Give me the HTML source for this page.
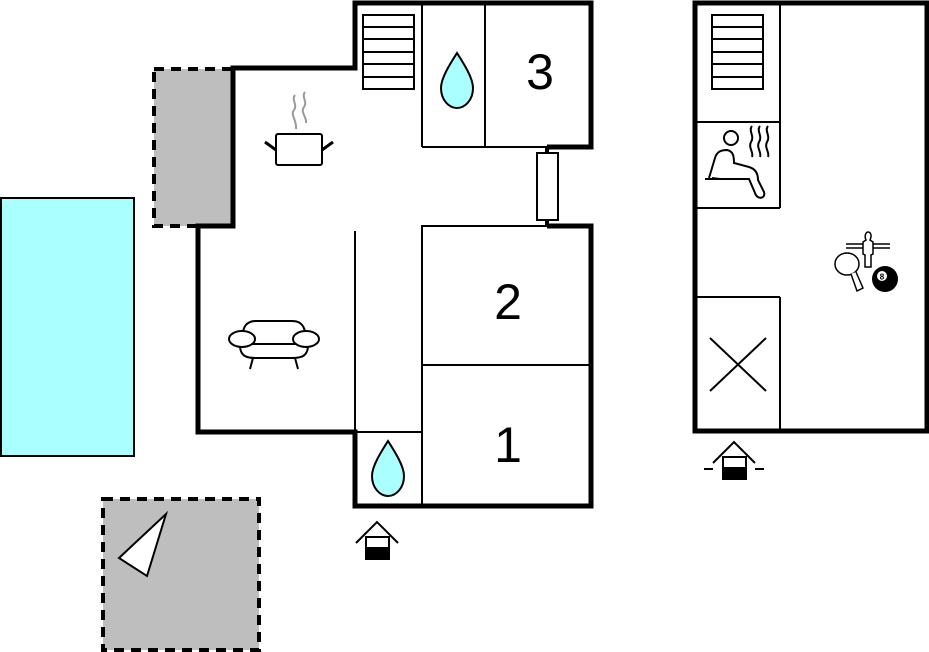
<!DOCTYPE html>
<html><head><meta charset="utf-8"><style>
html,body{margin:0;padding:0;background:#fff;}
svg{display:block;}
text{font-family:"Liberation Sans",sans-serif;}
</style></head><body>
<svg width="929" height="652" viewBox="0 0 929 652" xmlns="http://www.w3.org/2000/svg">
<rect x="1" y="198" width="133" height="258" fill="#aaffff" stroke="#000" stroke-width="2"/>
<rect x="154" y="69" width="79" height="157" fill="#bebebe" stroke="#000" stroke-width="4" stroke-dasharray="10,7"/>
<rect x="103" y="499" width="156" height="151" fill="#bebebe" stroke="#000" stroke-width="4" stroke-dasharray="10,7"/>
<polygon points="119,558 166,514 147,576" fill="#fff" stroke="#000" stroke-width="2"/>

<path d="M355,3 H591 V147 H547 V226 H591 V506 H355 V432 H198 V226 H233 V68 H355 Z" fill="#fff"/>
<g stroke="#000" stroke-width="2" fill="none">
<line x1="422" y1="3" x2="422" y2="147"/>
<line x1="485" y1="3" x2="485" y2="147"/>
<line x1="422" y1="147" x2="547" y2="147"/>
<rect x="422" y="226" width="169" height="280"/>
<line x1="422" y1="365" x2="591" y2="365"/>
<rect x="355" y="432" width="67" height="74"/>
<line x1="355" y1="231" x2="355" y2="432"/>
<rect x="363" y="15" width="51" height="74"/>
<line x1="363" y1="27" x2="414" y2="27"/><line x1="363" y1="39" x2="414" y2="39"/>
<line x1="363" y1="52" x2="414" y2="52"/><line x1="363" y1="64" x2="414" y2="64"/>
<line x1="363" y1="77" x2="414" y2="77"/>
<rect x="537" y="153" width="21" height="67" fill="#fff"/>
</g>
<path d="M547,147 H591 V3 H355 V68 H233 V226 H198 V432 H355 V506 H591 V226 H547" fill="none" stroke="#000" stroke-width="5"/>
<line x1="547" y1="147" x2="547" y2="153" stroke="#000" stroke-width="4"/>
<line x1="547" y1="220" x2="547" y2="226" stroke="#000" stroke-width="4"/>

<path d="M457,53 C450,64 441,78 441,88 C441,100 449,108 457,108 C465,108 473,100 473,88 C473,78 464,64 457,53 Z" fill="#aaffff" stroke="#000" stroke-width="2"/>
<path d="M388,441 C381,452 372,466 372,476 C372,488 380,496 388,496 C396,496 404,488 404,476 C404,466 395,452 388,441 Z" fill="#aaffff" stroke="#000" stroke-width="2"/>
<text x="540" y="89" font-size="50" text-anchor="middle">3</text>
<text x="508" y="319" font-size="50" text-anchor="middle">2</text>
<text x="508" y="462" font-size="50" text-anchor="middle">1</text>

<g stroke="#000" stroke-width="2" fill="#fff">
<rect x="276" y="134" width="46" height="31" rx="2"/>
<line x1="265" y1="142" x2="276" y2="150" stroke-width="3"/>
<line x1="322" y1="150" x2="333" y2="142" stroke-width="3"/>
</g>
<path d="M295,95 C291,100 298,105 294,110 C290,115 297,120 296,129 M305,92 C301,97 308,102 304,107 C300,112 307,117 306,123" fill="none" stroke="#999" stroke-width="2"/>
<g stroke="#000" stroke-width="2" fill="#fff">
<path d="M242,343 C242,330 244,321 256,321 H292 C304,321 306,330 306,343"/>
<path d="M240,345 C240,356 246,358 256,358 H292 C302,358 308,356 308,345"/>
<line x1="250" y1="344" x2="298" y2="344"/>
<ellipse cx="242" cy="339" rx="13" ry="8"/>
<ellipse cx="306" cy="339" rx="13" ry="8"/>
<line x1="253" y1="358" x2="250" y2="369"/>
<line x1="295" y1="358" x2="298" y2="369"/>
</g>
<g stroke="#000" stroke-width="2" fill="#fff">
<polyline points="356,543 377,522 398,543" fill="none"/>
<rect x="366" y="537" width="23" height="22"/>
<rect x="366" y="548" width="23" height="11" fill="#000"/>
</g>

<rect x="695" y="3" width="232" height="428" fill="#fff" stroke="#000" stroke-width="5"/>
<g stroke="#000" stroke-width="2" fill="none">
<line x1="780" y1="3" x2="780" y2="208"/>
<line x1="780" y1="297" x2="780" y2="431"/>
<line x1="695" y1="122" x2="780" y2="122"/>
<line x1="695" y1="208" x2="780" y2="208"/>
<line x1="695" y1="297" x2="780" y2="297"/>
<rect x="712" y="15" width="51" height="74"/>
<line x1="712" y1="27" x2="763" y2="27"/><line x1="712" y1="39" x2="763" y2="39"/>
<line x1="712" y1="52" x2="763" y2="52"/><line x1="712" y1="64" x2="763" y2="64"/>
<line x1="712" y1="77" x2="763" y2="77"/>
<line x1="710" y1="338" x2="766" y2="391"/>
<line x1="766" y1="338" x2="710" y2="391"/>
<circle cx="731" cy="138" r="7"/>
<path d="M709,178 L715,158 C717,151 722,150 727,150 C733,151 734,156 734,163 L749,167 C756,169 758,174 758,180 L764,192 C766,199 757,200 755,193 L749,179 L720,179 L712,178"/>
<line x1="705" y1="179" x2="738" y2="179"/>
<path d="M752,126 C748,131 755,136 751,142 C748,148 754,152 752,157 M760,126 C756,131 763,136 759,142 C756,148 762,152 760,157 M768,126 C764,131 771,136 767,142 C764,148 770,152 768,157"/>
</g>
<g stroke="#000" stroke-width="1.5" fill="#fff">
<line x1="846" y1="244" x2="890" y2="244"/>
<line x1="846" y1="248" x2="890" y2="248"/>
<path d="M866,240 C864,236 866,232 868,232 C871,232 872,236 870,240 L873,242 L873,254 L871,255 L871,267 L865,267 L865,255 L863,254 L863,242 Z"/>
<ellipse cx="847" cy="264" rx="12" ry="11"/>
<path d="M851,274 L857,291 L863,288 L856,272"/>
</g>
<circle cx="885" cy="279" r="13" fill="#000"/>
<circle cx="882" cy="276" r="5" fill="#fff"/>
<text x="882" y="279.5" font-size="8" font-weight="bold" text-anchor="middle">8</text>
<g stroke="#000" stroke-width="2" fill="#fff">
<polyline points="713,463 734,442 755,463" fill="none"/>
<rect x="723" y="457" width="23" height="22"/>
<rect x="723" y="468" width="23" height="11" fill="#000"/>
<line x1="704" y1="469" x2="713" y2="469"/>
<line x1="755" y1="469" x2="764" y2="469"/>
</g>
</svg>
</body></html>
